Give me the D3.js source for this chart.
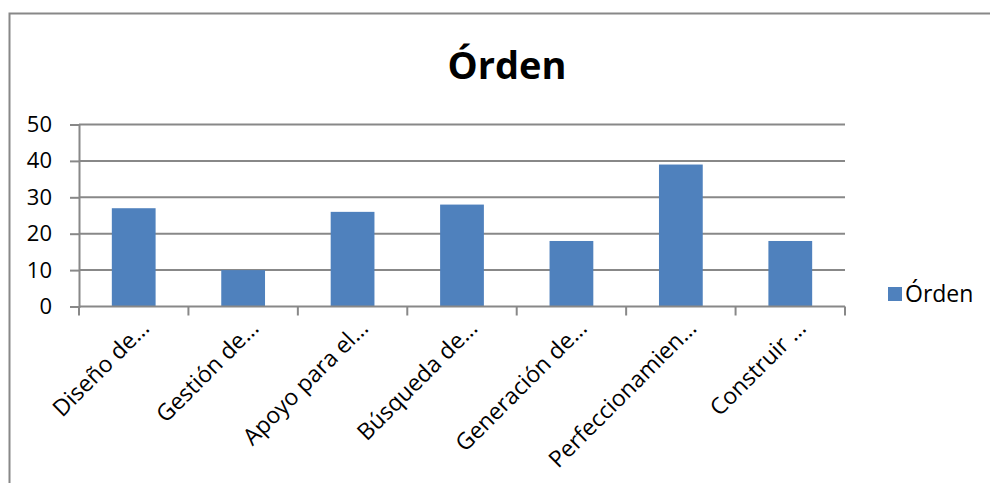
<!DOCTYPE html>
<html>
<head>
<meta charset="utf-8">
<script src="https://cdn.jsdelivr.net/npm/d3@7"></script>
<style>
  body { margin: 0; background: #fff; }
  text { font-family: "Open Sans", "Liberation Sans", sans-serif; fill: #000; }
</style>
</head>
<body>
<svg id="chart" width="990" height="483"></svg>
<script>
var categories = ["Diseño de…", "Gestión de…", "Apoyo para el…", "Búsqueda de…",
                  "Generación de…", "Perfeccionamien…", "Construir …"];
var values = [27, 10, 26, 28, 18, 39, 18];
var yTicks = [0, 10, 20, 30, 40, 50];
var seriesName = "Órden";

var plot = {left: 79, right: 845, top: 124.5, bottom: 306.5};
var svg = d3.select("#chart");

// outer chart frame
svg.append("rect")
   .attr("x", 9.5).attr("y", 13.5)
   .attr("width", 1000).attr("height", 500)
   .attr("fill", "none")
   .attr("stroke", "#888").attr("stroke-width", 2);

var xScale = d3.scaleBand()
               .domain(categories)
               .range([plot.left, plot.right]);

var yScale = d3.scaleLinear()
               .domain([0, 50])
               .range([plot.bottom, plot.top]);

// gridlines
svg.append("g").selectAll("line")
   .data(yTicks.slice(1))
   .enter().append("line")
   .attr("x1", plot.left).attr("x2", plot.right)
   .attr("y1", function(d){ return yScale(d); })
   .attr("y2", function(d){ return yScale(d); })
   .attr("stroke", "#888").attr("stroke-width", 2);

// y axis
var yAxis = d3.axisLeft(yScale).tickValues(yTicks).tickSize(9).tickPadding(18);
var gy = svg.append("g")
   .attr("transform", "translate(" + plot.left + ",0)")
   .call(yAxis);
gy.select(".domain").attr("stroke", "#888").attr("stroke-width", 2);
gy.selectAll(".tick line").attr("stroke", "#888").attr("stroke-width", 2);
gy.selectAll(".tick text").style("font-size", "22px").attr("fill", "#000");

// bars
var barW = xScale.bandwidth() * 0.4;
svg.append("g").selectAll("rect")
   .data(values)
   .enter().append("rect")
   .attr("x", function(d, i){ return xScale(categories[i]) + (xScale.bandwidth() - barW) / 2; })
   .attr("y", function(d){ return yScale(d); })
   .attr("width", barW)
   .attr("height", function(d){ return yScale(0) - yScale(d); })
   .attr("fill", "#4f81bd");

// x axis (ticks at category boundaries)
var boundaries = categories.map(function(c){ return xScale(c); }).concat([plot.right]);
svg.append("line")
   .attr("x1", plot.left).attr("x2", plot.right)
   .attr("y1", plot.bottom).attr("y2", plot.bottom)
   .attr("stroke", "#888").attr("stroke-width", 2);
svg.append("g").selectAll("line")
   .data(boundaries)
   .enter().append("line")
   .attr("x1", function(d){ return d; }).attr("x2", function(d){ return d; })
   .attr("y1", plot.bottom).attr("y2", plot.bottom + 9)
   .attr("stroke", "#888").attr("stroke-width", 2);

// rotated category labels
svg.append("g").selectAll("text")
   .data(categories)
   .enter().append("text")
   .attr("transform", function(d){
     var cx = xScale(d) + xScale.bandwidth() / 2;
     return "translate(" + (cx + 17) + "," + (plot.bottom + 23) + ") rotate(-45)";
   })
   .attr("text-anchor", "end")
   .style("font-size", "23px")
   .text(function(d){ return d; });

// title
svg.append("text")
   .attr("x", 507).attr("y", 79)
   .attr("text-anchor", "middle")
   .style("font-size", "38px").style("font-weight", "bold")
   .text(seriesName);

// legend
svg.append("rect")
   .attr("x", 888).attr("y", 287)
   .attr("width", 14).attr("height", 14)
   .attr("fill", "#4f81bd");
svg.append("text")
   .attr("x", 905).attr("y", 302)
   .style("font-size", "23px")
   .text(seriesName);
</script>
</body>
</html>
